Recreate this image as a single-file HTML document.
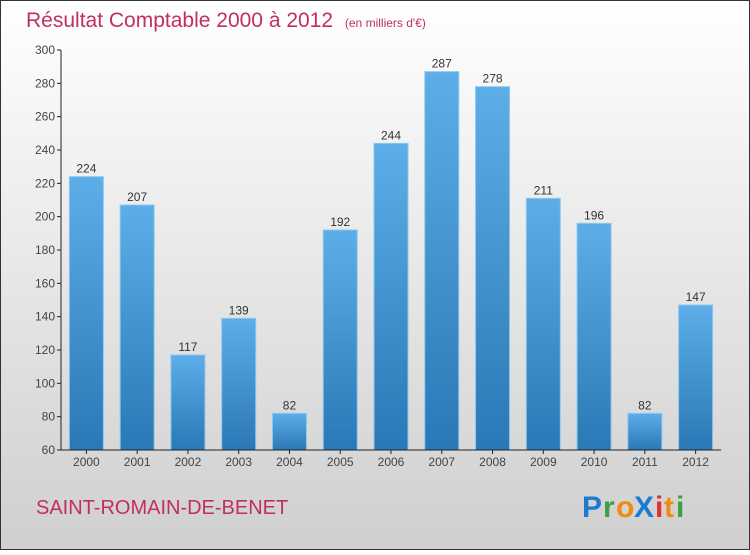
<!DOCTYPE html>
<html><head><meta charset="utf-8"><style>
body{margin:0}
#c{width:750px;height:550px;position:relative;font-family:"Liberation Sans",sans-serif}
</style></head><body>
<div id="c">
<svg id="s" width="750" height="550" xmlns="http://www.w3.org/2000/svg">
<defs>
<linearGradient id="bg" x1="0" y1="0" x2="0" y2="1"><stop offset="0" stop-color="#ffffff"/><stop offset="1" stop-color="#cfcfcf"/></linearGradient>
<linearGradient id="bar" x1="0" y1="0" x2="0" y2="1"><stop offset="0" stop-color="#5daee8"/><stop offset="1" stop-color="#2a78b5"/></linearGradient>
</defs>
<rect x="0.5" y="0.5" width="749" height="549" fill="url(#bg)" stroke="#333"/>
<text x="26" y="27" font-size="21" fill="#c0305e">Résultat Comptable 2000 à 2012 <tspan font-size="12" dx="6">(en milliers d'€)</tspan></text>
<g id="plot"></g>
<text x="36" y="514" font-size="20" fill="#c0305e">SAINT-ROMAIN-DE-BENET</text>
<g font-size="30" font-weight="bold">
<text x="582" y="517" fill="#1a7ad4">P</text><text x="603" y="517" fill="#3aa040">r</text><text x="616" y="517" fill="#f08a10">o</text><text x="634" y="517" fill="#1a7ad4">X</text><text x="655" y="517" fill="#e03030">i</text><text x="664" y="517" fill="#f08a10">t</text><text x="676" y="517" fill="#3aa040">i</text>
</g>
</svg>
</div>
<script>
const years=["2000","2001","2002","2003","2004","2005","2006","2007","2008","2009","2010","2011","2012"];
const values=[224,207,117,139,82,192,244,287,278,211,196,82,147];
const yTicks=[60,80,100,120,140,160,180,200,220,240,260,280,300];
const NS="http://www.w3.org/2000/svg";
const g=document.getElementById('plot');
const x0=61,x1=721,yTop=50,yBot=450,vMin=60,vMax=300;
const yS=v=>yBot-(v-vMin)/(vMax-vMin)*(yBot-yTop);
const step=(x1-x0)/years.length;
const xS=i=>x0+step*(i+0.5);
function mk(t,a){const e=document.createElementNS(NS,t);for(const k in a)e.setAttribute(k,a[k]);g.appendChild(e);return e;}
yTicks.forEach(v=>{
 const l=mk('line',{x1:x0-4,x2:x0,y1:yS(v),y2:yS(v),stroke:'#222'});
 
 
 const t=mk('text',{x:x0-6,y:yS(v)+4,'text-anchor':'end','font-size':12,fill:'#444'});
 t.textContent=v;
 
 
});
values.forEach((v,i)=>{
 const cx=xS(i),w=34;
 const r=mk('rect',{x:cx-w/2,y:yS(v),width:w,height:yBot-yS(v),fill:'url(#bar)',stroke:'#8cc8f0','stroke-width':1});
 
 
 const t=mk('text',{x:cx,y:yS(v)-4,'text-anchor':'middle','font-size':12,fill:'#333'});
 t.textContent=v;
 
 
 const tk=mk('line',{x1:cx,x2:cx,y1:yBot,y2:yBot+4,stroke:'#222'});
 
 
 const xl=mk('text',{x:cx,y:yBot+16,'text-anchor':'middle','font-size':12,fill:'#444'});
 xl.textContent=years[i];
 
 
});
const ya=mk('line',{x1:x0,x2:x0,y1:yTop,y2:yBot,stroke:'#222'});


const xa=mk('line',{x1:x0,x2:x1,y1:yBot,y2:yBot,stroke:'#222'});


</script>
</body></html>
